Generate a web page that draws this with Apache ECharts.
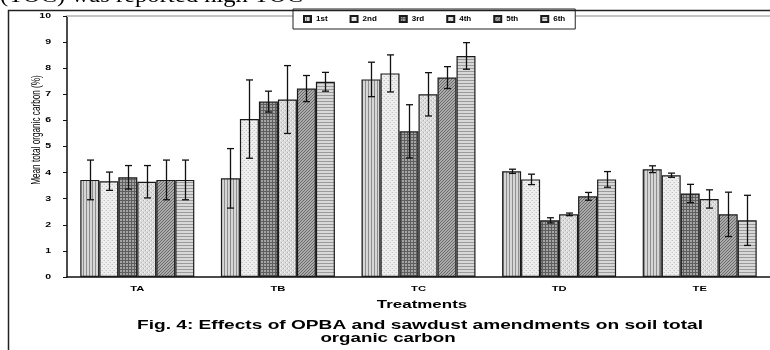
<!DOCTYPE html>
<html><head><meta charset="utf-8">
<script src="https://cdn.jsdelivr.net/npm/echarts@6/dist/echarts.min.js"></script>
<style>html,body{margin:0;padding:0;background:#fff}#c{width:770px;height:350px}</style>
</head><body><div id="c"></div>
<script>
const categories = ['TA','TB','TC','TD','TE'];
const seriesNames = ['1st','2nd','3rd','4th','5th','6th'];
const s1 = [3.72, 3.78, 7.57, 4.05, 4.13];
const s2 = [3.67, 6.05, 7.80, 3.74, 3.90];
const s3 = [3.82, 6.72, 5.58, 2.17, 3.20];
const s4 = [3.65, 6.80, 7.00, 2.40, 2.99];
const s5 = [3.72, 7.22, 7.64, 3.09, 2.40];
const s6 = [3.72, 7.48, 8.47, 3.74, 2.17];
const e1 = [0.76, 1.14, 0.66, 0.08, 0.13];
const e2 = [0.35, 1.50, 0.71, 0.20, 0.08];
const e3 = [0.45, 0.40, 1.02, 0.10, 0.35];
const e4 = [0.62, 1.30, 0.83, 0.05, 0.35];
const e5 = [0.76, 0.50, 0.42, 0.15, 0.85];
const e6 = [0.76, 0.36, 0.51, 0.30, 0.96];
const yTicks = [0,1,2,3,4,5,6,7,8,9,10];
const xTitle = 'Treatments';
const yTitle = 'Mean total organic carbon (%)';
const figTitle1 = 'Fig. 4: Effects of OPBA and sawdust amendments on soil total';
const figTitle2 = 'organic carbon';
const topText = '(TOC) was reported high TOC';

const values = [s1,s2,s3,s4,s5,s6];
const errors = [e1,e2,e3,e4,e5,e6];

function pat(size, draw){
  const c = document.createElement('canvas');
  c.width = size; c.height = size;
  const g = c.getContext('2d');
  draw(g, size);
  return {image: c, repeat: 'repeat'};
}
const patterns = [
  pat(3, (g,n)=>{g.fillStyle='#d6d6d6';g.fillRect(0,0,n,n);g.fillStyle='#8e8e8e';g.fillRect(2,0,1,n);}),
  pat(4, (g,n)=>{g.fillStyle='#efefef';g.fillRect(0,0,n,n);g.fillStyle='#c4c4c4';g.fillRect(0,0,1,1);g.fillRect(2,2,1,1);g.fillStyle='#dcdcdc';g.fillRect(1,2,1,1);g.fillRect(3,0,1,1);}),
  pat(3, (g,n)=>{g.fillStyle='#a4a4a4';g.fillRect(0,0,n,n);g.fillStyle='#5e5e5e';g.fillRect(2,0,1,n);g.fillRect(0,2,n,1);}),
  pat(4, (g,n)=>{g.fillStyle='#dadada';g.fillRect(0,0,n,n);g.fillStyle='#f4f4f4';g.fillRect(0,0,1,1);g.fillRect(2,2,1,1);g.fillStyle='#b4b4b4';g.fillRect(1,2,1,1);g.fillRect(3,0,1,1);}),
  pat(3, (g,n)=>{g.fillStyle='#ababab';g.fillRect(0,0,n,n);g.fillStyle='#6a6a6a';g.fillRect(0,2,1,1);g.fillRect(1,1,1,1);g.fillRect(2,0,1,1);}),
  pat(3, (g,n)=>{g.fillStyle='#d8d8d8';g.fillRect(0,0,n,n);g.fillStyle='#9a9a9a';g.fillRect(0,2,n,1);})
];

const BW = 19;
const errData = [];
for (let s = 0; s < 6; s++) {
  for (let c = 0; c < categories.length; c++) {
    errData.push([c, s, values[s][c] - errors[s][c], values[s][c] + errors[s][c]]);
  }
}

const barSeries = seriesNames.map((n, i) => ({
  name: n, type: 'bar', data: values[i], barWidth: BW, barGap: '0%',
  itemStyle: {color: patterns[i], borderColor: '#1a1a1a', borderWidth: 1.2},
  emphasis: {disabled: true}, animation: false
}));

const errSeries = {
  type: 'custom', data: errData, z: 10, animation: false, silent: true,
  encode: {x: 0, y: [2, 3]},
  renderItem: function(params, api){
    const ci = api.value(0), si = api.value(1);
    const lo = api.coord([ci, api.value(2)]);
    const hi = api.coord([ci, api.value(3)]);
    const x = Math.round(lo[0] + (si - 2.5) * BW) + 0.5;
    const w = 3.5;
    const st = {stroke: '#111', lineWidth: 1.3, fill: null};
    return {type: 'group', children: [
      {type: 'line', shape: {x1: x, y1: lo[1], x2: x, y2: hi[1]}, style: st},
      {type: 'line', shape: {x1: x - w, y1: lo[1], x2: x + w, y2: lo[1]}, style: st},
      {type: 'line', shape: {x1: x - w, y1: hi[1], x2: x + w, y2: hi[1]}, style: st}
    ]};
  }
};

const SANS = '"Liberation Sans", Arial, sans-serif';
const chart = echarts.init(document.getElementById('c'), null, {renderer: 'canvas'});
chart.setOption({
  animation: false,
  backgroundColor: '#fff',
  grid: {left: 67, top: 16, width: 710, height: 261, containLabel: false},
  legend: {
    data: seriesNames, left: 293, top: 9, itemWidth: 7, itemHeight: 6, itemGap: 22,
    padding: [6, 10, 6, 10], backgroundColor: '#fff', borderColor: '#222', borderWidth: 1,
    icon: 'rect',
    textStyle: {fontFamily: SANS, fontWeight: 'bold', fontSize: 8, color: '#000'},
    selectedMode: false
  },
  xAxis: [{
    type: 'category', data: categories,
    axisLine: {lineStyle: {color: '#111', width: 1.5}},
    axisTick: {length: 3, lineStyle: {color: '#111'}},
    axisLabel: {show: false}
  }, {
    type: 'category', data: categories, position: 'top',
    axisLine: {lineStyle: {color: '#c4c4c4', width: 2}},
    axisTick: {show: false}, axisLabel: {show: false}
  }],
  yAxis: {
    type: 'value', min: yTicks[0], max: yTicks[yTicks.length - 1], interval: 1,
    axisLine: {show: true, lineStyle: {color: '#111', width: 1.5}},
    axisTick: {show: true, length: 4, lineStyle: {color: '#111'}},
    axisLabel: {show: false},
    splitLine: {show: false}
  },
  series: barSeries.concat([errSeries])
});

// stretched text labels (the reference figure is horizontally stretched)
const SX = 1.5;
const g = [
  {type: 'polyline', shape: {points: [[8.5, 350], [8.5, 10.5], [770, 10.5]]}, style: {stroke: '#222', lineWidth: 1.5, fill: null}, z: 100},
  {type: 'text', x: 0, y: 7, scaleX: 1.12, style: {text: topText, font: '22px "Liberation Serif", "Times New Roman", serif', fill: '#000', verticalAlign: 'bottom'}},
  {type: 'text', x: 37, y: 130, rotation: Math.PI / 2, scaleY: 1.45,
    style: {text: yTitle, font: '8.2px ' + SANS, fill: '#000', align: 'center', verticalAlign: 'middle'}},
  {type: 'text', x: 422, y: 305, scaleX: 1.54, style: {text: xTitle, font: 'bold 11px ' + SANS, fill: '#000', align: 'center', verticalAlign: 'middle'}},
  {type: 'text', x: 420, y: 325, scaleX: 1.47, style: {text: figTitle1, font: 'bold 13px ' + SANS, fill: '#000', align: 'center', verticalAlign: 'middle'}},
  {type: 'text', x: 388, y: 338, scaleX: 1.44, style: {text: figTitle2, font: 'bold 13px ' + SANS, fill: '#000', align: 'center', verticalAlign: 'middle'}}
];
yTicks.forEach(v => {
  const p = chart.convertToPixel({yAxisIndex: 0}, v);
  g.push({type: 'text', x: 51, y: p, scaleX: SX, style: {text: String(v), font: 'bold 7px ' + SANS, fill: '#000', align: 'right', verticalAlign: 'middle'}});
});
categories.forEach((c, i) => {
  const p = chart.convertToPixel({xAxisIndex: 0}, i);
  g.push({type: 'text', x: p, y: 289, scaleX: 1.4, style: {text: c, font: 'bold 8px ' + SANS, fill: '#000', align: 'center', verticalAlign: 'middle'}});
});
chart.setOption({graphic: g});
</script></body></html>
